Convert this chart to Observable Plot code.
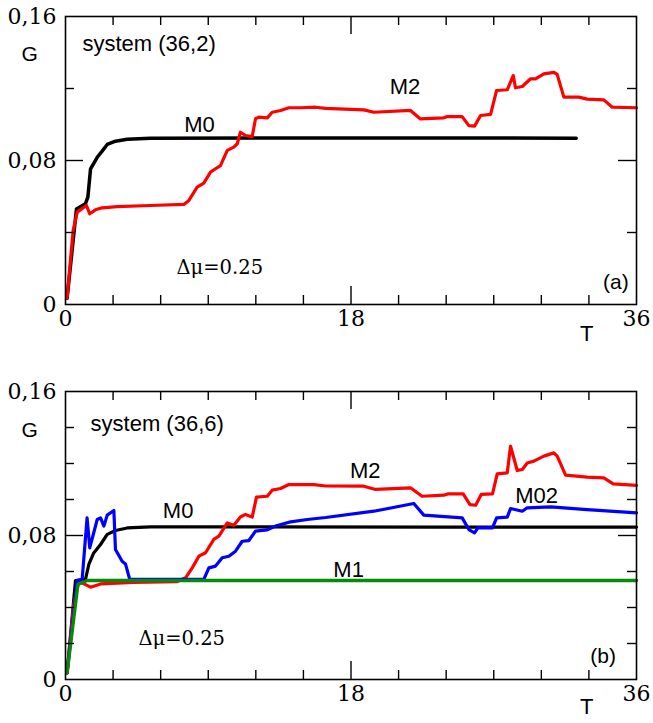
<!DOCTYPE html>
<html>
<head>
<meta charset="utf-8">
<script src="https://cdn.jsdelivr.net/npm/d3@7"></script>
<script src="https://cdn.jsdelivr.net/npm/@observablehq/plot@0.6"></script>
<style>
  html, body { margin: 0; padding: 0; background: #fff; }
  #chart svg { display: block; }
</style>
</head>
<body>
<div id="chart"></div>
<script>
// ---------- data (T, G) ----------
const a_M0 = [[0.1,0.0035],[0.69,0.053],[1.26,0.056],[1.41,0.0596],[1.58,0.0754],[2.0,0.0818],[2.31,0.0852],[2.63,0.0889],[3.15,0.0907],[3.89,0.0918],[5.36,0.0924],[12,0.0925],[20,0.0925],[32.2,0.0924]];
const a_M2 = [[0.1,0.0035],[0.48,0.041],[0.74,0.0513],[1.32,0.055],[1.53,0.0504],[1.89,0.0526],[2.31,0.0537],[3.26,0.0544],[5.36,0.055],[7.46,0.0556],[7.78,0.0578],[8.3,0.0652],[8.72,0.0674],[9.14,0.0735],[9.46,0.0754],[9.77,0.0772],[10.2,0.0856],[10.61,0.0874],[10.83,0.0893],[11.03,0.0957],[11.35,0.0939],[11.77,0.0933],[11.98,0.1032],[12.19,0.1041],[12.72,0.1037],[13.03,0.1068],[13.56,0.1078],[14.08,0.1093],[14.82,0.1093],[15.76,0.1096],[16.4,0.1090],[18.81,0.1081],[19.44,0.1068],[21.75,0.1078],[22.38,0.1031],[23.85,0.1037],[24.07,0.1044],[25.01,0.1044],[25.43,0.0994],[25.79,0.0991],[26.17,0.105],[26.8,0.1056],[27.18,0.1189],[27.85,0.1193],[28.23,0.1272],[28.37,0.1204],[28.8,0.1211],[29.32,0.1254],[29.63,0.1254],[30.16,0.1281],[30.79,0.129],[31.0,0.1278],[31.42,0.1152],[32.36,0.1152],[32.89,0.1141],[33.94,0.1137],[34.47,0.1096],[36,0.1093]];

const b_M0 = [[0.1,0.0037],[0.63,0.055],[1.26,0.0556],[1.47,0.0639],[1.78,0.0703],[2.21,0.075],[2.63,0.0806],[3.15,0.0828],[3.89,0.0842],[5.36,0.0848],[12,0.0848],[24,0.0847],[36,0.0847]];
const b_M2 = [[0.1,0.0037],[0.52,0.0417],[0.84,0.0546],[1.58,0.0513],[2.21,0.0531],[4.3,0.054],[7.04,0.0544],[7.57,0.0565],[7.99,0.062],[8.41,0.0685],[8.83,0.0704],[9.35,0.0778],[9.67,0.0796],[10.2,0.087],[10.61,0.0857],[11.03,0.0903],[11.35,0.0917],[11.77,0.0902],[12.04,0.1013],[12.72,0.1018],[13.03,0.1052],[13.56,0.1061],[14.08,0.1083],[15.66,0.1083],[16.4,0.1075],[18.81,0.1074],[19.55,0.1056],[21.75,0.1065],[22.48,0.1018],[23.85,0.1024],[24.1,0.1031],[25.07,0.1031],[25.5,0.0972],[25.86,0.0968],[26.21,0.1028],[26.92,0.1031],[27.22,0.1142],[27.85,0.1148],[28.06,0.1296],[28.48,0.1161],[28.8,0.1167],[29.11,0.1203],[29.53,0.1213],[30.16,0.1241],[30.79,0.1259],[31.0,0.1241],[31.53,0.1135],[32.89,0.1124],[33.94,0.112],[34.53,0.1087],[36,0.1079]];
const b_M02 = [[0.1,0.0037],[0.74,0.055],[1.05,0.0556],[1.36,0.0898],[1.53,0.0731],[2.0,0.0889],[2.21,0.0898],[2.42,0.0852],[2.63,0.0913],[3.05,0.0939],[3.15,0.0722],[3.57,0.0657],[3.78,0.0642],[4.05,0.0556],[8.72,0.0556],[9.04,0.062],[9.46,0.063],[9.88,0.0676],[10.3,0.0685],[10.72,0.0713],[11.14,0.0768],[11.56,0.0772],[11.98,0.0824],[12.72,0.0831],[13.24,0.0852],[14.2,0.0876],[15.24,0.0889],[16.4,0.0900],[19.44,0.0935],[21.96,0.0978],[22.59,0.0913],[25.01,0.0898],[25.43,0.0833],[25.79,0.0815],[26.0,0.0842],[26.92,0.0842],[27.18,0.0898],[27.85,0.0902],[28.06,0.095],[28.8,0.0935],[29.11,0.0954],[30.58,0.0959],[32.89,0.0944],[36,0.0926]];
const b_M1 = [[0.1,0.0037],[0.78,0.0528],[1.36,0.055],[10,0.055],[20,0.055],[36,0.055]];

// ---------- axes ----------
const xTicks = [0, 18, 36];
const xTickLabels = ["0", "18", "36"];
const xMinor = [3, 6, 9, 12, 15, 21, 24, 27, 30, 33];
const yTicks = [0, 0.08, 0.16];
const yTickLabels = ["0", "0,08", "0,16"];
const yMinorA = [0.04, 0.12];
const yMinorB = [0.02, 0.04, 0.06, 0.10, 0.12, 0.14];
const deltaLabel = "Δμ=0.25";

const W = 653, ML = 65, MR = 17;
const PW = W - ML - MR, PH = 288;
const SERIF = "DejaVu Serif";
const SANS = "Liberation Sans";

function ticks(yMinor) {
  const maj = 18, min = 9, sw = 1.4;
  return [
    Plot.tickX(xMinor, {x: d => d, insetTop: PH - min, stroke: "black", strokeWidth: sw}),
    Plot.tickX(xMinor, {x: d => d, insetBottom: PH - min, stroke: "black", strokeWidth: sw}),
    Plot.tickX([18], {x: d => d, insetTop: PH - maj, stroke: "black", strokeWidth: sw}),
    Plot.tickX([18], {x: d => d, insetBottom: PH - maj, stroke: "black", strokeWidth: sw}),
    Plot.tickY(yMinor, {y: d => d, insetRight: PW - min, stroke: "black", strokeWidth: sw}),
    Plot.tickY(yMinor, {y: d => d, insetLeft: PW - min, stroke: "black", strokeWidth: sw}),
    Plot.tickY([0.08], {y: d => d, insetRight: PW - maj, stroke: "black", strokeWidth: sw}),
    Plot.tickY([0.08], {y: d => d, insetLeft: PW - maj, stroke: "black", strokeWidth: sw})
  ];
}

// tick labels drawn as serif text marks positioned by the scales
function tickLabels() {
  return [
    Plot.text(xTicks, {x: d => d, frameAnchor: "bottom", text: (d, i) => xTickLabels[i], dy: 21, fontFamily: SERIF, fontSize: 22, fill: "black"}),
    Plot.text(yTicks, {y: d => d, frameAnchor: "left", text: (d, i) => yTickLabels[i], dx: -9, textAnchor: "end", fontFamily: SERIF, fontSize: 22, fill: "black"})
  ];
}

function line(data, color, w) {
  return Plot.line(data, {x: d => d[0], y: d => d[1], stroke: color, strokeWidth: w, strokeLinejoin: "round", strokeLinecap: "round"});
}

function txt(s, x, y, opts = {}) {
  return Plot.text([s], {x: () => x, y: () => y, text: d => d, fill: "black", fontFamily: SANS, fontSize: 22, ...opts});
}

const common = {
  width: W, marginLeft: ML, marginRight: MR,
  x: {domain: [0, 36], axis: null},
  y: {domain: [0, 0.16], axis: null},
  style: {background: "white", color: "black", overflow: "visible", fontFamily: SANS}
};

const chartA = Plot.plot({
  ...common,
  height: 370, marginTop: 16, marginBottom: 66,
  marks: [
    line(a_M0, "black", 3.5),
    line(a_M2, "#ff0000", 3.2),
    ...ticks(yMinorA),
    Plot.frame({stroke: "black", strokeWidth: 1.6}),
    ...tickLabels(),
    txt("system (36,2)", 1.07, 0.145, {textAnchor: "start"}),
    txt("M0", 8.45, 0.0995),
    txt("M2", 21.4, 0.1206),
    txt("(a)", 34.7, 0.0122, {fontSize: 21}),
    txt(deltaLabel, 7.0, 0.0206, {textAnchor: "start", fontFamily: SERIF, fontSize: 19.5}),
    txt("G", 0, 0.16, {frameAnchor: "top-left", x: null, y: null, dx: -44, dy: 30, fontSize: 21}),
    txt("T", 0, 0, {frameAnchor: "bottom-right", x: null, y: null, dx: -43, dy: 36})
  ]
});

const chartB = Plot.plot({
  ...common,
  height: 353, marginTop: 21, marginBottom: 44,
  marks: [
    line(b_M0, "black", 3.2),
    line(b_M2, "#ff0000", 3.2),
    line(b_M02, "#0000ff", 3.2),
    line(b_M1, "#078a07", 3.4),
    ...ticks(yMinorB),
    Plot.frame({stroke: "black", strokeWidth: 1.6}),
    ...tickLabels(),
    txt("system (36,6)", 1.58, 0.1418, {textAnchor: "start"}),
    txt("M0", 7.1, 0.0935),
    txt("M2", 18.9, 0.1157),
    txt("M02", 29.7, 0.1018),
    txt("M1", 17.85, 0.061),
    txt("(b)", 33.9, 0.0129, {fontSize: 21}),
    txt(deltaLabel, 4.6, 0.0224, {textAnchor: "start", fontFamily: SERIF, fontSize: 19.5}),
    txt("G", 0, 0.16, {frameAnchor: "top-left", x: null, y: null, dx: -44, dy: 31, fontSize: 21}),
    txt("T", 0, 0, {frameAnchor: "bottom-right", x: null, y: null, dx: -43, dy: 34})
  ]
});

const el = document.getElementById("chart");
el.appendChild(chartA);
el.appendChild(chartB);
</script>
</body>
</html>
